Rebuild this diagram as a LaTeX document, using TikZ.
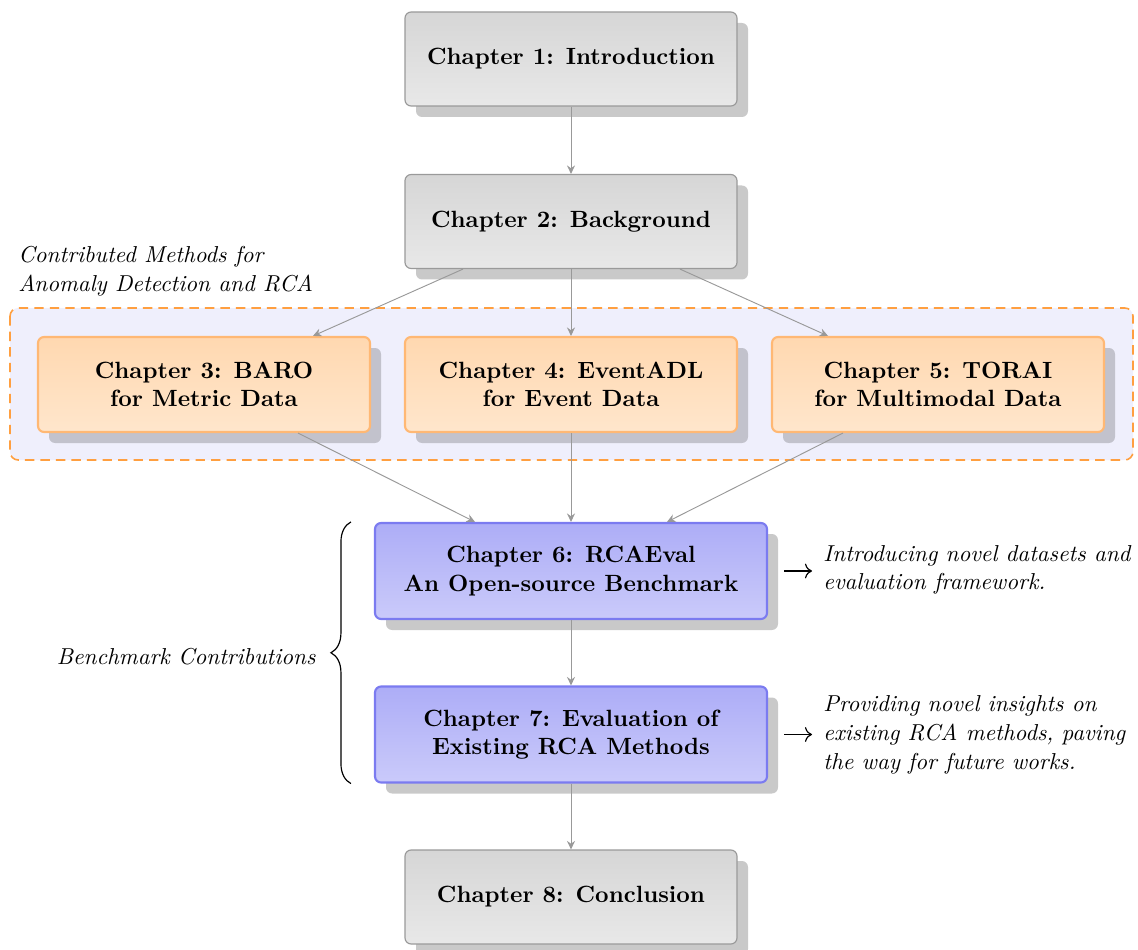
\documentclass[tikz,border=0pt]{standalone}
\usetikzlibrary{arrows.meta,shadows,decorations.pathreplacing,calc}
\newcommand\pxu{0.4255pt}
\definecolor{graytop}{HTML}{D6D6D6}
\definecolor{graybot}{HTML}{E8E8E8}
\definecolor{grayline}{HTML}{9A9A9A}
\definecolor{orgtop}{HTML}{FFD8B0}
\definecolor{orgbot}{HTML}{FFE6CC}
\definecolor{orgline}{HTML}{FFB874}
\definecolor{bluetop}{HTML}{ADADF7}
\definecolor{bluebot}{HTML}{CACAFA}
\definecolor{blueline}{HTML}{7B7BF0}
\definecolor{groupfill}{HTML}{EFEFFC}
\definecolor{groupline}{HTML}{FF9F40}
\definecolor{shadegray}{HTML}{C9C9C9}
\definecolor{shadeorg}{HTML}{C2C2CC}
\definecolor{arrowgray}{HTML}{999999}
\tikzset{
  chapter/.style={rectangle, rounded corners=2.6pt, align=center,
    font=\bfseries, inner sep=2pt},
  plainbox/.style={chapter, draw=grayline, line width=0.5pt,
    top color=graytop, bottom color=graybot,
    minimum width=332*\pxu, minimum height=94*\pxu,
    general shadow={fill=shadegray, shadow xshift=11*\pxu, shadow yshift=-11*\pxu}},
  methodbox/.style={chapter, draw=orgline, line width=0.9pt,
    top color=orgtop, bottom color=orgbot,
    minimum width=332*\pxu, minimum height=95*\pxu,
    general shadow={fill=shadeorg, shadow xshift=11*\pxu, shadow yshift=-11*\pxu}},
  benchbox/.style={chapter, draw=blueline, line width=0.9pt,
    top color=bluetop, bottom color=bluebot,
    minimum width=392*\pxu, minimum height=96*\pxu,
    general shadow={fill=shadegray, shadow xshift=11*\pxu, shadow yshift=-11*\pxu}},
  flow/.style={draw=arrowgray, line width=0.4pt, -{Stealth[length=3.6pt,width=3.4pt]}},
  note/.style={font=\fontsize{9.8pt}{12.2pt}\selectfont\itshape, align=left, inner sep=0pt},
  pointer/.style={draw=black, line width=0.5pt, -{To[length=3pt]}}
}
\begin{document}
\begin{tikzpicture}[x=\pxu, y=-\pxu]
  \useasboundingbox (0,0) rectangle (1138,950);

  % group of contributed methods
  \draw[groupline, fill=groupfill, dashed, dash pattern=on 4pt off 2.6pt,
        line width=0.7pt, rounded corners=3.5pt] (10,308) rectangle (1133,460);
  \node[note, anchor=west] (grouplabel) at (18,271)
    {Contributed Methods for\\Anomaly Detection and RCA};

  % chapters
  \node[plainbox]  (c1) at (571,59)    {Chapter 1: Introduction};
  \node[plainbox]  (c2) at (571,221.5) {Chapter 2: Background};
  \node[methodbox] (c3) at (204,384.5) {Chapter 3: BARO\\for Metric Data};
  \node[methodbox] (c4) at (571,384.5) {Chapter 4: EventADL\\for Event Data};
  \node[methodbox] (c5) at (938,384.5) {Chapter 5: TORAI\\for Multimodal Data};
  \node[benchbox]  (c6) at (571,571)   {Chapter 6: RCAEval\\An Open-source Benchmark};
  \node[benchbox]  (c7) at (571,734.5) {Chapter 7: Evaluation of\\Existing RCA Methods};
  \node[plainbox]  (c8) at (571,897)   {Chapter 8: Conclusion};

  % flow between chapters
  \draw[flow] (c1) -- (c2);
  \draw[flow] ([xshift=-108*\pxu]c2.south) -- ([xshift=109*\pxu]c3.north);
  \draw[flow] (c2) -- (c4);
  \draw[flow] ([xshift=109*\pxu]c2.south) -- ([xshift=-110*\pxu]c5.north);
  \draw[flow] ([xshift=94*\pxu]c3.south) -- ([xshift=-96*\pxu]c6.north);
  \draw[flow] (c4) -- (c6);
  \draw[flow] ([xshift=-95*\pxu]c5.south) -- ([xshift=96*\pxu]c6.north);
  \draw[flow] (c6) -- (c7);
  \draw[flow] (c7) -- (c8);

  % benchmark contributions
  \draw[line width=0.5pt, decorate, decoration={brace, amplitude=8.5pt}]
    ([xshift=-23*\pxu]c7.south west) -- ([xshift=-23*\pxu]c6.north west);
  \node[note, anchor=east] (benchlabel) at (316,657) {Benchmark Contributions};

  \node[note, anchor=west] (t6) at (823,570)
    {Introducing novel datasets and\\evaluation framework.};
  \node[note, anchor=west] (t7) at (823,735)
    {Providing novel insights on\\existing RCA methods, paving\\the way for future works.};
  \draw[pointer] ([xshift=16*\pxu]c6.east) -- ([xshift=-11*\pxu]t6.west |- c6.east);
  \draw[pointer] ([xshift=16*\pxu]c7.east) -- ([xshift=-11*\pxu]t7.west |- c7.east);
\end{tikzpicture}
\end{document}
